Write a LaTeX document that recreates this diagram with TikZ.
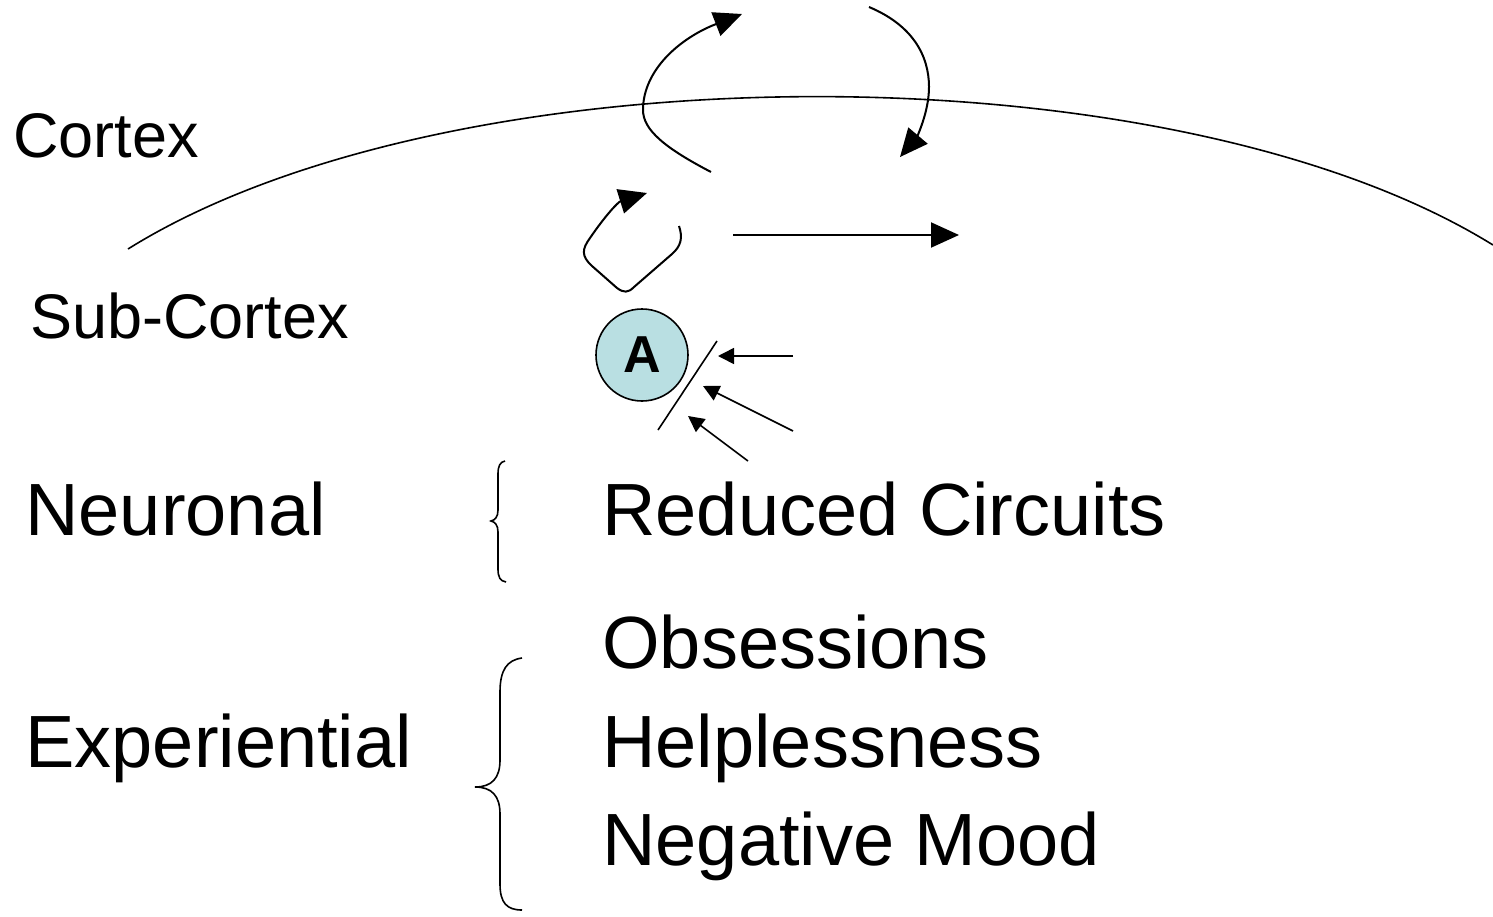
\documentclass[tikz,border=0pt]{standalone}
\usepackage{fontspec}
\setmainfont{Liberation Sans}
\usetikzlibrary{arrows.meta}
\definecolor{cellblue}{HTML}{B9DFE2}
\begin{document}
\begin{tikzpicture}[x=0.5pt,y=-0.5pt,
  bigtext/.style={anchor=base west,inner sep=0pt,font=\fontsize{37}{37}\selectfont},
  midtext/.style={anchor=base west,inner sep=0pt,font=\fontsize{31.5}{31.5}\selectfont},
  bigarrow/.style={line width=1pt,-{Triangle[length=14pt,width=12.5pt]}},
  smallarrow/.style={line width=0.8pt,-{Triangle[length=8pt,width=8pt]}},
  plainline/.style={line width=0.8pt},
  bracestyle/.style={line width=0.8pt}]
\useasboundingbox (0,0) rectangle (1493,916);

% labels
\node[midtext] (cortex) at (13,157) {Cortex};
\node[midtext] (subcortex) at (30,338) {Sub-Cortex};
\node[bigtext] (neuronal) at (25,535) {Neuronal};
\node[bigtext] (experiential) at (25,767) {Experiential};
\node[bigtext] (reduced) at (602,535) {Reduced Circuits};
\node[bigtext] (obsessions) at (602,668) {Obsessions};
\node[bigtext] (helpless) at (602,767) {Helplessness};
\node[bigtext] (negmood) at (602,865) {Negative Mood};

% cortex boundary arc
\coordinate (arcL) at (128,249);
\coordinate (arcR) at (1493,245);
\draw[plainline] (arcL) .. controls (450,48) and (1170,45) .. (arcR);

% big looping arrow up
\coordinate (upS) at (711,172);
\coordinate (upM) at (643,110);
\coordinate (upE) at (742,14);
\draw[bigarrow] (upS) .. controls (665,148) and (643,130) .. (upM)
  .. controls (643,70) and (680,38) .. (upE);

% big arrow down
\coordinate (dnS) at (869,7);
\coordinate (dnM) at (929,87);
\coordinate (dnE) at (900,157);
\draw[bigarrow] (dnS) .. controls (912,25) and (929,55) .. (dnM)
  .. controls (929,113) and (916,138) .. (dnE);

% small loop arrow
\coordinate (lpS) at (679,226);
\coordinate (lpE) at (647,193);
\draw[bigarrow] (lpS) .. controls (683,238) and (681,246) .. (672,254)
  -- (634,287) .. controls (628,293) and (624,293) .. (617,288)
  -- (592,266) .. controls (581,256) and (582,249) .. (590,238)
  .. controls (605,216) and (618,202) .. (lpE);

% straight arrow
\coordinate (hS) at (733,235);
\coordinate (hE) at (959,235);
\draw[bigarrow] (hS) -- (hE);

% neuron A
\node[circle,draw,line width=0.8pt,fill=cellblue,minimum size=46pt,inner sep=0pt,
  font=\fontsize{26}{26}\selectfont\bfseries] (A) at (642,355) {A};

% synapse slash
\coordinate (slB) at (658,430);
\coordinate (slT) at (717,341);
\draw[plainline] (slB) -- (slT);

% incoming arrows
\coordinate (i1S) at (793,356);
\coordinate (i1E) at (718,356);
\coordinate (i2S) at (793,431);
\coordinate (i2E) at (703,386);
\coordinate (i3S) at (748,461);
\coordinate (i3E) at (688,416);
\draw[smallarrow] (i1S) -- (i1E);
\draw[smallarrow] (i2S) -- (i2E);
\draw[smallarrow] (i3S) -- (i3E);

% braces
\coordinate (b1T) at (505,461);
\coordinate (b1M) at (491,521);
\coordinate (b1B) at (506,582);
\draw[bracestyle] (b1T) .. controls (500,462) and (498,466) .. (498,474)
  -- (498,510) .. controls (498,517) and (495,520) .. (b1M)
  .. controls (495,522) and (498,525) .. (498,532)
  -- (498,569) .. controls (498,577) and (500,581) .. (b1B);

\coordinate (b2T) at (522,658);
\coordinate (b2M) at (475,787);
\coordinate (b2B) at (522,910);
\draw[bracestyle] (b2T) .. controls (507,660) and (500,670) .. (500,692)
  -- (500,760) .. controls (500,778) and (492,787) .. (b2M)
  .. controls (492,787) and (500,796) .. (500,814)
  -- (500,884) .. controls (500,903) and (507,910) .. (b2B);
\end{tikzpicture}
\end{document}
